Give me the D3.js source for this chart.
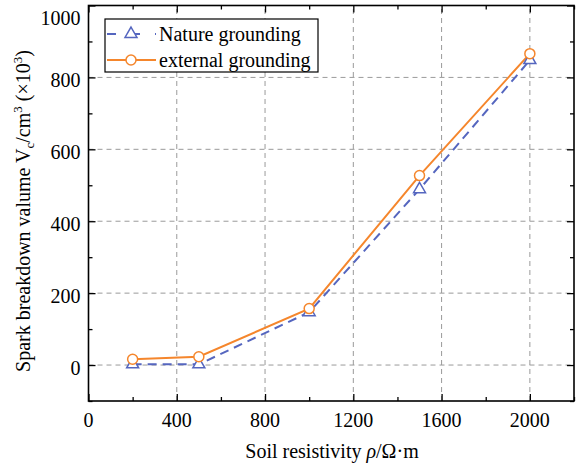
<!DOCTYPE html>
<html>
<head>
<meta charset="utf-8">
<script src="https://cdn.jsdelivr.net/npm/d3@7"></script>
<style>
  body { margin: 0; background: #fff; }
  svg { display: block; font-family: 'Liberation Serif', 'Times New Roman', serif; }
</style>
</head>
<body>
<div id="chart"></div>
<script>
const resistivity = [200, 500, 1000, 1500, 2000];
const natureValues = [2, 2, 147, 489, 848];
const externalValues = [16, 23, 157, 527, 866];
const seriesNames = ['Nature grounding', 'external grounding'];
const xTicks = [0, 400, 800, 1200, 1600, 2000];
const yTicks = [0, 200, 400, 600, 800, 1000];

const width = 576, height = 466;
const margin = { left: 88.5, right: 2, top: 5.5, bottom: 65 };

const svg = d3.select('#chart').append('svg')
  .attr('width', width)
  .attr('height', height);

const x = d3.scaleLinear().domain([0, 2200]).range([margin.left, width - margin.right]);
const y = d3.scaleLinear().domain([-100, 1000]).range([height - margin.bottom, margin.top]);

const x0 = x.range()[0], x1 = x.range()[1];
const y0 = y.range()[0], y1 = y.range()[1];

// grid
svg.append('g')
  .selectAll('line')
  .data(xTicks.filter(d => d > 0))
  .enter().append('line')
  .attr('x1', d => x(d)).attr('x2', d => x(d))
  .attr('y1', y0).attr('y2', y1)
  .attr('stroke', '#9a9a9a').attr('stroke-width', 1)
  .attr('stroke-dasharray', '5,4');

svg.append('g')
  .selectAll('line')
  .data(yTicks.filter(d => d < 1000))
  .enter().append('line')
  .attr('x1', x0).attr('x2', x1)
  .attr('y1', d => y(d)).attr('y2', d => y(d))
  .attr('stroke', '#9a9a9a').attr('stroke-width', 1)
  .attr('stroke-dasharray', '5,4');

// axes, ticks inward on all four sides
const xMinor = d3.range(0, 2201, 200);
const yMinor = d3.range(-100, 1001, 100);

svg.append('g')
  .attr('transform', `translate(0,${y0})`)
  .call(d3.axisTop(x).tickValues(xMinor).tickSize(0).tickFormat(''))
  .call(g => g.select('.domain').remove())
  .call(g => g.selectAll('.tick line')
    .attr('y2', d => xTicks.includes(d) ? -7 : -4)
    .attr('stroke', '#000').attr('stroke-width', 1.3));

svg.append('g')
  .attr('transform', `translate(0,${y1})`)
  .call(d3.axisBottom(x).tickValues(xMinor).tickSize(0).tickFormat(''))
  .call(g => g.select('.domain').remove())
  .call(g => g.selectAll('.tick line')
    .attr('y2', d => xTicks.includes(d) ? 7 : 4)
    .attr('stroke', '#000').attr('stroke-width', 1.3));

svg.append('g')
  .attr('transform', `translate(${x0},0)`)
  .call(d3.axisRight(y).tickValues(yMinor).tickSize(0).tickFormat(''))
  .call(g => g.select('.domain').remove())
  .call(g => g.selectAll('.tick line')
    .attr('x2', d => d % 200 === 0 ? 7 : 4)
    .attr('stroke', '#000').attr('stroke-width', 1.3));

svg.append('g')
  .attr('transform', `translate(${x1},0)`)
  .call(d3.axisLeft(y).tickValues(yMinor).tickSize(0).tickFormat(''))
  .call(g => g.select('.domain').remove())
  .call(g => g.selectAll('.tick line')
    .attr('x2', d => d % 200 === 0 ? -7 : -4)
    .attr('stroke', '#000').attr('stroke-width', 1.3));

svg.append('rect')
  .attr('x', x0).attr('y', y1)
  .attr('width', x1 - x0).attr('height', y0 - y1)
  .attr('fill', 'none').attr('stroke', '#000').attr('stroke-width', 1.6);

// tick labels
svg.append('g')
  .selectAll('text')
  .data(xTicks)
  .enter().append('text')
  .attr('x', d => x(d))
  .attr('y', y0 + 26)
  .attr('text-anchor', 'middle')
  .attr('font-size', 20)
  .text(d => d);

svg.append('g')
  .selectAll('text')
  .data(yTicks)
  .enter().append('text')
  .attr('x', x0 - 8)
  .attr('y', d => Math.max(y(d) + 10, 25))
  .attr('text-anchor', 'end')
  .attr('font-size', 20)
  .text(d => d);

// axis titles
const xt = svg.append('text')
  .attr('x', 332).attr('y', 458)
  .attr('text-anchor', 'middle')
  .attr('font-size', 20);
xt.append('tspan').text('Soil resistivity ');
xt.append('tspan').attr('font-style', 'italic').text('ρ');
xt.append('tspan').text('/Ω·m');

const yt = svg.append('text')
  .attr('transform', 'translate(30,211) rotate(-90)')
  .attr('text-anchor', 'middle')
  .attr('font-size', 20);
yt.append('tspan').text('Spark breakdown valume V');
yt.append('tspan').attr('font-size', 13).attr('dy', 4).text('c');
yt.append('tspan').attr('dy', -4).text('/cm');
yt.append('tspan').attr('font-size', 13).attr('dy', -8).text('3');
yt.append('tspan').attr('dy', 8).text(' (×10');
yt.append('tspan').attr('font-size', 13).attr('dy', -8).text('3');
yt.append('tspan').attr('dy', 8).text(')');

// series
const blue = '#5566bf', orange = '#f5862c';
const line = d3.line().x(d => x(d[0])).y(d => y(d[1]));
const naturePts = resistivity.map((r, i) => [r, natureValues[i]]);
const externalPts = resistivity.map((r, i) => [r, externalValues[i]]);

svg.append('path')
  .datum(naturePts)
  .attr('d', line)
  .attr('fill', 'none').attr('stroke', blue)
  .attr('stroke-width', 2).attr('stroke-dasharray', '9,6');

svg.append('path')
  .datum(externalPts)
  .attr('d', line)
  .attr('fill', 'none').attr('stroke', orange)
  .attr('stroke-width', 2);

const tri = d3.symbol().type(d3.symbolTriangle).size(62);

svg.append('g')
  .selectAll('path')
  .data(naturePts)
  .enter().append('path')
  .attr('d', tri)
  .attr('transform', d => `translate(${x(d[0])},${y(d[1])})`)
  .attr('fill', '#fff').attr('stroke', blue).attr('stroke-width', 1.5);

svg.append('g')
  .selectAll('circle')
  .data(externalPts)
  .enter().append('circle')
  .attr('cx', d => x(d[0])).attr('cy', d => y(d[1]))
  .attr('r', 5)
  .attr('fill', '#fff').attr('stroke', orange).attr('stroke-width', 1.5);

// legend
const legend = svg.append('g');
legend.append('rect')
  .attr('x', 105).attr('y', 19)
  .attr('width', 213).attr('height', 53)
  .attr('fill', '#fff').attr('stroke', '#000').attr('stroke-width', 1.2);

legend.append('line')
  .attr('x1', 107).attr('x2', 156).attr('y1', 34).attr('y2', 34)
  .attr('stroke', blue).attr('stroke-width', 2).attr('stroke-dasharray', '9,15');
legend.append('path')
  .attr('d', tri)
  .attr('transform', 'translate(131,34)')
  .attr('fill', '#fff').attr('stroke', blue).attr('stroke-width', 1.5);

legend.append('line')
  .attr('x1', 107).attr('x2', 156).attr('y1', 60).attr('y2', 60)
  .attr('stroke', orange).attr('stroke-width', 2);
legend.append('circle')
  .attr('cx', 131).attr('cy', 60).attr('r', 5)
  .attr('fill', '#fff').attr('stroke', orange).attr('stroke-width', 1.5);

legend.selectAll('text.lg')
  .data(seriesNames)
  .enter().append('text')
  .attr('class', 'lg')
  .attr('x', 159)
  .attr('y', (d, i) => 41 + i * 26)
  .attr('font-size', 20)
  .text(d => d);
</script>
</body>
</html>
